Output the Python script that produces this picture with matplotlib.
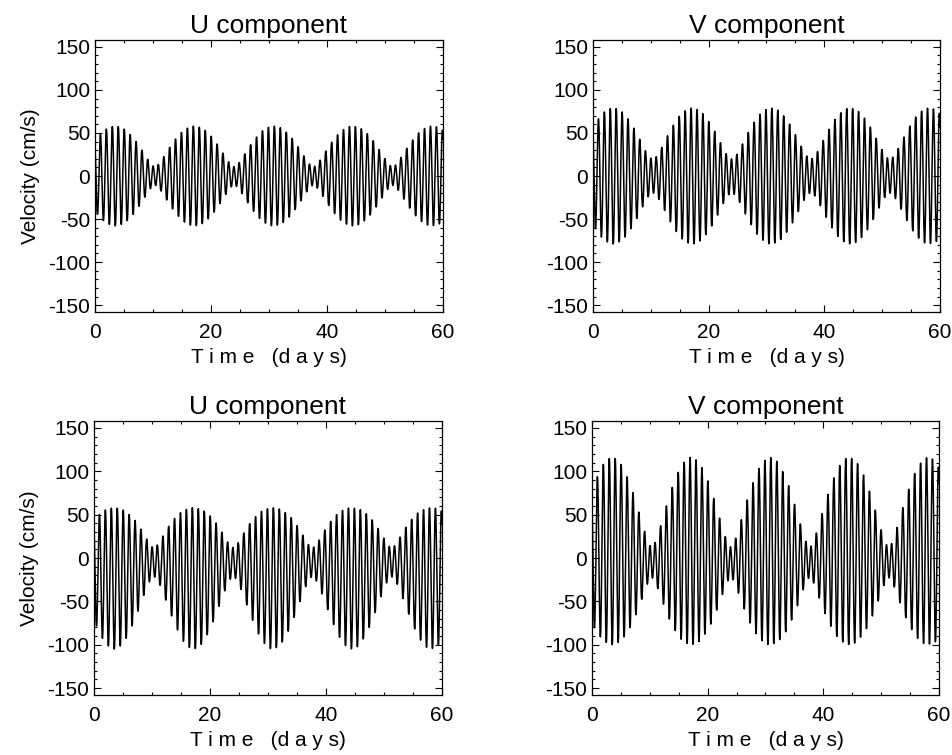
import numpy as np
import matplotlib
matplotlib.use("Agg")
import matplotlib.pyplot as plt
from matplotlib.ticker import MultipleLocator

plt.rcParams['font.family'] = ['Liberation Sans', 'DejaVu Sans']
plt.rcParams['axes.unicode_minus'] = False

# time axis: hourly samples over 60 days
t = np.arange(0, 60.0001, 1.0 / 24.0)

# tidal constituent frequencies (cycles per day)
freq_k1 = 1.0027379
freq_o1 = 0.9295357
freq_mf = freq_k1 - freq_o1

titles = ["U component", "V component", "U component", "V component"]

# amplitudes (cm/s): spring = K1 + O1, neap = K1 - O1
amp_k1 = [34.5, 49.5, 49.3, 63.0]
amp_o1 = [23.5, 29.5, 32.2, 45.0]
# phase lags (degrees) -> springs near day 3.5, 17.2, 30.8, 44.5, 58.2
pha_k1 = [3.4, 3.4, 3.4, 3.4]
pha_o1 = [271.2, 271.2, 271.2, 271.2]
# residual mean flow and fortnightly (Mf) part, lower panels only
mean_flow = [0.0, 0.0, -14.2, 1.5]
amp_mf = [0.0, 0.0, 9.3, 6.5]
pha_mf = [272.2, 272.2, 272.2, 92.2]

W, H = 953, 755
fig = plt.figure(figsize=(W / 100, H / 100), dpi=100)

rects = [
    [95 / W, 1 - 312 / H, 348 / W, 272 / H],
    [593 / W, 1 - 312 / H, 347 / W, 272 / H],
    [94 / W, 1 - 695 / H, 348 / W, 274 / H],
    [592 / W, 1 - 695 / H, 347 / W, 274 / H],
]

for i in range(4):
    ax = fig.add_axes(rects[i])
    u = (mean_flow[i]
         + amp_k1[i] * np.cos(2 * np.pi * freq_k1 * t - np.radians(pha_k1[i]))
         + amp_o1[i] * np.cos(2 * np.pi * freq_o1 * t - np.radians(pha_o1[i]))
         + amp_mf[i] * np.cos(2 * np.pi * freq_mf * t - np.radians(pha_mf[i])))
    ax.plot(t, u, color='black', linewidth=1.1)

    ax.set_xlim(0, 60)
    ax.set_ylim(-158, 158)
    ax.xaxis.set_major_locator(MultipleLocator(20))
    ax.xaxis.set_minor_locator(MultipleLocator(5))
    ax.yaxis.set_major_locator(MultipleLocator(50))
    ax.yaxis.set_minor_locator(MultipleLocator(10))
    ax.tick_params(which='both', direction='in', top=True, right=True,
                   labelsize=15, width=0.8)
    ax.tick_params(which='major', length=5)
    ax.tick_params(which='minor', length=2.5)
    ax.tick_params(axis='x', pad=8)
    ax.tick_params(axis='y', pad=3.5)
    for s in ax.spines.values():
        s.set_linewidth(0.9)

    ax.set_title(titles[i], fontsize=19, pad=5)
    ax.set_xlabel("T i m e   (d a y s)", fontsize=15, labelpad=4)
    if i % 2 == 0:
        ax.set_ylabel("Velocity (cm/s)", fontsize=15, labelpad=6)

fig.savefig("out.png", dpi=100)
